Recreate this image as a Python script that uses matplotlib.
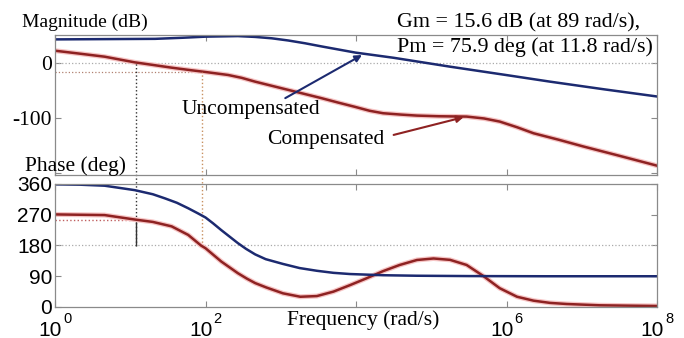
import numpy as np
import matplotlib.pyplot as plt

# log10 of frequency (rad/s) and values
mag_unc_lw = [0, 0.66, 1.33, 1.7, 2.0, 2.43, 2.66, 2.88, 3.1, 3.32, 3.55, 3.77,
              3.99, 4.5, 5.25, 6.0, 6.58, 7.3, 8.0]
mag_unc = [43, 43.5, 44, 46, 48, 49, 47.5, 45, 41, 36, 30, 24.5,
           19, 9.5, -6.7, -22, -34, -48, -61]

mag_cmp_lw = [0, 0.33, 0.66, 1.06, 1.3, 1.55, 1.8, 2.0, 2.3, 2.48, 2.66, 2.88,
              3.1, 3.32, 3.54, 3.76, 3.99, 4.18, 4.36, 4.6, 4.81, 5.1, 5.47,
              5.7, 5.91, 6.14, 6.36, 6.7, 7.02, 7.5, 8.0]
mag_cmp = [22.4, 17, 11.5, 1.2, -3.5, -8.5, -13, -16.4, -21.8, -27, -34, -41.5,
           -49, -56.5, -64, -72, -80, -87, -91.5, -94, -95.8, -97, -97.6,
           -101, -106.7, -117, -128, -140, -152, -169, -187]

ph_unc_lw = [0, 0.33, 0.66, 1.06, 1.3, 1.46, 1.62, 1.77, 1.9, 2.0, 2.1, 2.21,
             2.32, 2.43, 2.54, 2.66, 2.8, 3.03, 3.25, 3.48, 3.7, 3.92, 4.36,
             4.81, 5.5, 6.5, 8.0]
ph_unc = [359, 358, 355, 342, 330, 318, 305, 289, 274, 262, 245, 225,
          206, 187, 170, 154, 140, 126, 114, 106, 100, 96.5, 93,
          91.5, 90.5, 90, 90]

ph_cmp_lw = [0, 0.33, 0.66, 1.06, 1.3, 1.55, 1.77, 1.94, 2.0, 2.21, 2.43, 2.55,
             2.66, 2.81, 3.03, 3.26, 3.48, 3.7, 3.92, 4.14, 4.36, 4.58, 4.81,
             5.03, 5.25, 5.47, 5.69, 5.91, 6.14, 6.36, 6.58, 6.8, 7.24, 7.6, 8.0]
ph_cmp = [271, 270, 269, 256, 249, 236, 211, 180, 172, 133, 99, 83,
          70, 57, 40, 30, 32, 45, 64, 84, 105, 123, 137.6,
          142, 138, 123, 91, 55, 30, 18.5, 12, 8.8, 5, 4, 3]

gm_db = 15.6
gm_w = 89
pm_deg = 75.9
pm_w = 11.8

x_exps = [0, 2, 6, 8]

blue = '#1c2a70'
red = '#8e2222'
halo = '#f6c4c4'
serif = ['Liberation Serif', 'DejaVu Serif']
sans = ['Liberation Sans', 'DejaVu Sans']

fig = plt.figure(figsize=(6.84, 3.38), dpi=100)
W, H = 684, 338
ax1 = fig.add_axes([55 / W, 1 - 175 / H, 602 / W, 140 / H])
ax2 = fig.add_axes([55 / W, 1 - 307 / H, 602 / W, 123 / H])

for ax in (ax1, ax2):
    ax.set_xscale('log')
    ax.set_xlim(1, 1e8)
    for s in ax.spines.values():
        s.set_color('#8a8a8a')
        s.set_linewidth(0.9)
    ax.tick_params(direction='in', length=4, color='#8a8a8a', top=True, right=True,
                   which='major', pad=2)
    ax.tick_params(which='minor', length=0)
    ax.set_xticks([1, 1e2, 1e4, 1e6, 1e8])
    ax.set_xticklabels([])

# magnitude
ylo, yhi = -204, 51
ax1.set_ylim(ylo, yhi)
ax1.set_yticks([-200, -100, 0])
ax1.set_yticklabels(['', '-100', '0'], family=serif, fontsize=15.5)
ax1.axhline(0, color='#aaaaaa', ls=':', lw=0.9)
ax1.plot([1, gm_w], [-gm_db, -gm_db], color='#b08070', ls=':', lw=0.9)
ax1.plot(10 ** np.array(mag_cmp_lw), mag_cmp, color=halo, lw=3.6)
ax1.plot(10 ** np.array(mag_cmp_lw), mag_cmp, color=red, lw=1.8)
ax1.plot(10 ** np.array(mag_unc_lw), mag_unc, color=blue, lw=1.8)
ax1.axvline(pm_w, ymin=-0.06, ymax=(0 - ylo) / (yhi - ylo), color='#333333',
            ls=':', lw=1, clip_on=False)
ax1.axvline(gm_w, ymin=-0.06, ymax=(-gm_db - ylo) / (yhi - ylo), color='#c89060',
            ls=':', lw=1, clip_on=False)

# phase
ax2.set_ylim(0, 360)
ax2.set_yticks([0, 90, 180, 270, 360])
ax2.set_yticklabels(['0', '90', '180', '270', '360'], family=sans, fontsize=15)
ax2.axhline(180, color='#aaaaaa', ls=':', lw=0.9)
ax2.plot([1, pm_w], [180 + pm_deg, 180 + pm_deg], color='#c06060', ls=':', lw=1)
ax2.plot([pm_w, pm_w], [180, 180 + pm_deg], color='#333333', lw=1)
ax2.axvline(pm_w, ymin=180 / 360, ymax=1.0, color='#333333', ls=':', lw=1)
ax2.axvline(gm_w, ymin=180 / 360, ymax=1.0, color='#c89060', ls=':', lw=1)
ax2.plot(10 ** np.array(ph_cmp_lw), ph_cmp, color=halo, lw=3.6)
ax2.plot(10 ** np.array(ph_cmp_lw), ph_cmp, color=red, lw=1.8)
ax2.plot(10 ** np.array(ph_unc_lw), ph_unc, color=blue, lw=1.8)

# x tick labels as 10 with a raised exponent
for e in x_exps:
    ax2.annotate('10', xy=(10 ** e, 0), xycoords=('data', 'axes fraction'),
                 xytext=(7, -23), textcoords='offset pixels', ha='right',
                 va='center', fontsize=15, family=sans, annotation_clip=False)
    ax2.annotate(str(e), xy=(10 ** e, 0), xycoords=('data', 'axes fraction'),
                 xytext=(8, -12), textcoords='offset pixels', ha='left',
                 va='center', fontsize=10.5, family=sans, annotation_clip=False)
ax2.text(10 ** 4.1, -0.105, 'Frequency (rad/s)', transform=ax2.get_xaxis_transform(),
         ha='center', va='center', fontsize=15.5, family=serif)

# labels and margins text
fig.text(22 / W, 1 - 22 / H, 'Magnitude (dB)', fontsize=14, family=serif, va='center')
fig.text(25 / W, 1 - 166 / H, 'Phase (deg)', fontsize=15.5, family=serif, va='center')
fig.text(397 / W, 1 - 23 / H, 'Gm = %.1f dB (at %d rad/s),' % (gm_db, gm_w),
         fontsize=15.8, family=serif, va='center')
fig.text(397 / W, 1 - 47 / H, 'Pm = %.1f deg (at %.1f rad/s)' % (pm_deg, pm_w),
         fontsize=15.8, family=serif, va='center')

ax1.text(10 ** 2.6, -84, 'Uncompensated', fontsize=15.5, family=serif,
         ha='center', va='center')
ax1.annotate('', xy=(10 ** 4.08, 14.5), xytext=(10 ** 3.06, -64),
             arrowprops=dict(arrowstyle='-|>', color=blue, lw=1.5, shrinkA=0,
                             shrinkB=0, mutation_scale=10))
ax1.text(10 ** 3.6, -140, 'Compensated', fontsize=15.5, family=serif,
         ha='center', va='center')
ax1.annotate('', xy=(10 ** 5.43, -98.7), xytext=(10 ** 4.5, -131),
             arrowprops=dict(arrowstyle='-|>', color=red, lw=1.5, shrinkA=0,
                             shrinkB=0, mutation_scale=10))

fig.savefig('out.png', dpi=100)
